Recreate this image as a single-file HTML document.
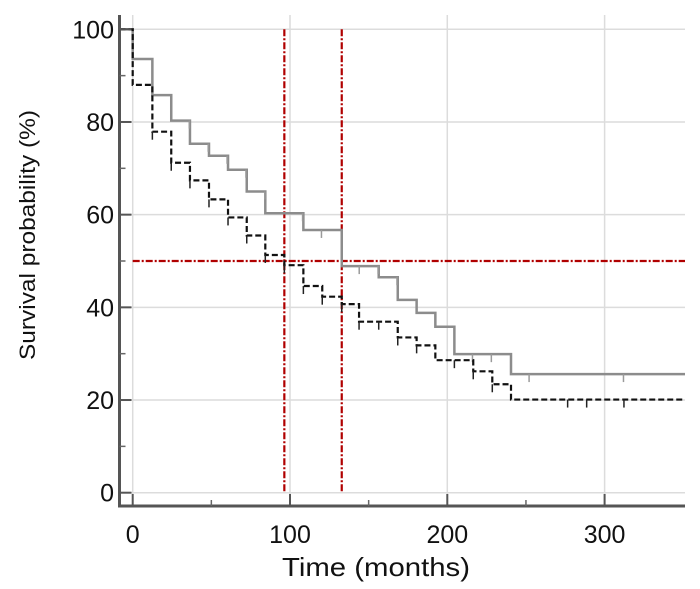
<!DOCTYPE html>
<html><head><meta charset="utf-8"><style>
html,body{margin:0;padding:0;background:#fff;}
svg{display:block;font-family:"Liberation Sans",sans-serif;}
</style></head><body>
<svg id="chart" width="700" height="589" viewBox="0 0 700 589" xmlns="http://www.w3.org/2000/svg">
<g id="grid"></g>
<g id="ref"></g>
<g id="series"></g>
<g id="axes"></g>
<text x="0" y="0" transform="translate(35,235) rotate(-90)" text-anchor="middle" font-size="22" textLength="250" lengthAdjust="spacingAndGlyphs" fill="#111">Survival probability (%)</text>
<text x="376" y="576" text-anchor="middle" font-size="26" textLength="188" lengthAdjust="spacingAndGlyphs" fill="#111">Time (months)</text>
</svg>
<script>
const xTicks = [0, 100, 200, 300];
const xMinor = [50, 150, 250];
const yTicks = [0, 20, 40, 60, 80, 100];
const yMinor = [10, 30, 50, 70, 90];
const grayTimes = [0, 12.5, 24.5, 36.4, 48.5, 60.6, 72.5, 84.3, 108.5, 132.9, 156.4, 168.5, 180.5, 192.4, 204.5, 240.5];
const grayValues = [100, 93.6, 85.8, 80.3, 75.3, 72.7, 69.7, 65.0, 60.3, 56.7, 48.9, 46.5, 41.6, 38.8, 35.8, 29.9, 25.6];
const grayCensor = [36, 48, 60, 72, 84, 108, 120, 144, 156, 168, 216, 228, 252, 312];
const blackTimes = [0, 12.5, 24.5, 36.4, 48.5, 60.6, 72.5, 84.3, 96.4, 108.5, 120.5, 132.9, 143.9, 168.5, 180.5, 192.4, 216.5, 228.6, 240.5];
const blackValues = [100, 88.0, 77.9, 71.2, 67.4, 63.3, 59.4, 55.5, 51.3, 49.1, 44.6, 42.3, 40.7, 36.9, 33.5, 31.8, 28.6, 26.2, 23.4, 20.1];
const blackCensor = [12.5, 24.5, 36.4, 48.5, 60.6, 72.5, 84.3, 96.4, 108.5, 120.5, 132.9, 143.9, 156.4, 168.5, 180.5, 204.5, 216.5, 228.6, 276.5, 288.6, 312.3];
const medianTimes = [96.4, 132.9];
const medianLevel = 50;

const X0 = 132.7, XS = 1.573, Y0 = 492.7, YS = 4.634, XR = 685, AXL = 119.5, AXB = 506;
const sx = t => X0 + t * XS;
const sy = v => Y0 - v * YS;
const NS = 'http://www.w3.org/2000/svg';
function mk(parent, tag, attrs) {
  const e = document.createElementNS(NS, tag);
  for (const k in attrs) e.setAttribute(k, attrs[k]);
  document.getElementById(parent).appendChild(e);
  return e;
}
yTicks.forEach(v => {
  const l = mk('grid', 'line', {x1: AXL, x2: XR, y1: sy(v), y2: sy(v), stroke: '#dcdcdc', 'stroke-width': 1.5});
  
  
});
xTicks.forEach(t => {
  const l = mk('grid', 'line', {x1: sx(t), x2: sx(t), y1: 15, y2: AXB, stroke: '#dcdcdc', 'stroke-width': 1.5});
  
  
});
// values[0] holds before the first time; values[i+1] holds after times[i]
function stepPath(times, vals) {
  let d = 'M' + AXL + ' ' + sy(vals[0]);
  for (let i = 0; i < times.length; i++) {
    d += ' H' + sx(times[i]) + ' V' + sy(vals[i + 1]);
  }
  d += ' H' + XR;
  return d;
}
function valAt(times, vals, t) {
  let v = vals[0];
  for (let i = 0; i < times.length; i++) if (t >= times[i]) v = vals[i + 1];
  return v;
}
const gp = mk('series', 'path', {d: stepPath(grayTimes, grayValues), fill: 'none', stroke: '#8c8c8c', 'stroke-width': 2.5});


grayCensor.forEach(t => {
  const v = valAt(grayTimes, grayValues, t + 0.01);
  const c = mk('series', 'line', {x1: sx(t), x2: sx(t), y1: sy(v), y2: sy(v) + 8, stroke: '#9a9a9a', 'stroke-width': 1.5});
  
  
});
const bp = mk('series', 'path', {d: stepPath(blackTimes, blackValues), fill: 'none', stroke: '#111', 'stroke-width': 2.2, 'stroke-dasharray': '6 3'});


blackCensor.forEach(t => {
  const v = valAt(blackTimes, blackValues, t + 0.01);
  const c = mk('series', 'line', {x1: sx(t), x2: sx(t), y1: sy(v), y2: sy(v) + 8, stroke: '#222', 'stroke-width': 1.5});
  
  
});
medianTimes.forEach(t => {
  const l = mk('ref', 'line', {x1: sx(t), x2: sx(t), y1: sy(100), y2: sy(0), stroke: '#b00000', 'stroke-width': 2.2, 'stroke-dasharray': '7 2 2 2'});
  
  
});
const hl = mk('ref', 'line', {x1: sx(0), x2: XR, y1: sy(medianLevel), y2: sy(medianLevel), stroke: '#b00000', 'stroke-width': 2.2, 'stroke-dasharray': '7 2 2 2'});


const ya = mk('axes', 'line', {x1: AXL, x2: AXL, y1: 15, y2: AXB + 1.5, stroke: '#555', 'stroke-width': 3});


const xa = mk('axes', 'line', {x1: AXL - 1.5, x2: XR, y1: AXB, y2: AXB, stroke: '#555', 'stroke-width': 3});


yTicks.forEach(v => {
  const tk = mk('axes', 'line', {x1: AXL, x2: AXL + 12, y1: sy(v), y2: sy(v), stroke: '#555', 'stroke-width': 2});
  
  
  const tx = mk('axes', 'text', {x: 114, y: sy(v) + 9, 'text-anchor': 'end', 'font-size': 25, fill: '#111'});
  tx.textContent = v;
  
  
});
yMinor.forEach(v => {
  const tk = mk('axes', 'line', {x1: AXL, x2: AXL + 6, y1: sy(v), y2: sy(v), stroke: '#666', 'stroke-width': 1.5});
  
  
});
xTicks.forEach(t => {
  const tk = mk('axes', 'line', {x1: sx(t), x2: sx(t), y1: AXB, y2: AXB - 12, stroke: '#555', 'stroke-width': 2});
  
  
  const tx = mk('axes', 'text', {x: sx(t), y: 543, 'text-anchor': 'middle', 'font-size': 25, fill: '#111'});
  tx.textContent = t;
  
  
});
xMinor.forEach(t => {
  const tk = mk('axes', 'line', {x1: sx(t), x2: sx(t), y1: AXB, y2: AXB - 6, stroke: '#666', 'stroke-width': 1.5});
  
  
});
</script>
</body></html>
